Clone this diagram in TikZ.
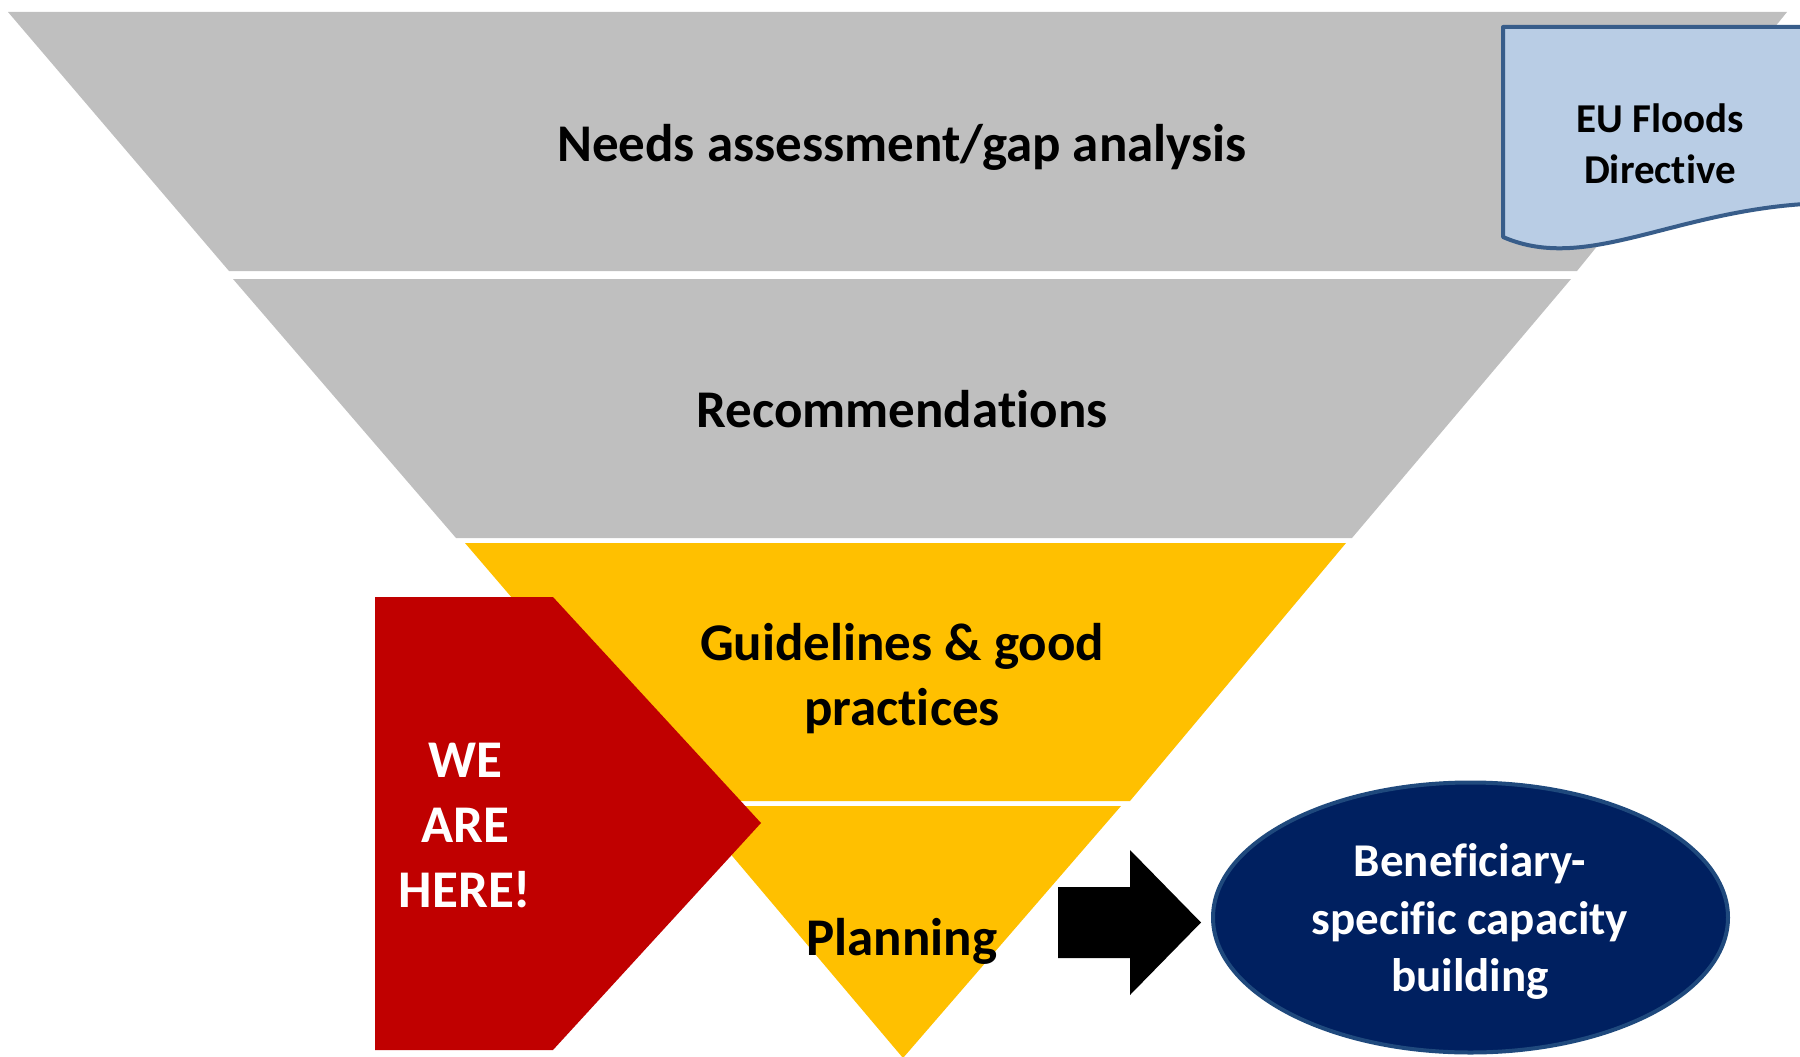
\documentclass[tikz,border=0pt]{standalone}
\usepackage{fontspec}
\setmainfont{Carlito}[Ligatures=NoCommon]
\definecolor{fgray}{HTML}{BFBFBF}
\definecolor{fgold}{HTML}{FFC000}
\definecolor{fred}{HTML}{C00000}
\definecolor{fnavy}{HTML}{002060}
\definecolor{fnavyline}{HTML}{1F497D}
\definecolor{docfill}{HTML}{B9CDE5}
\definecolor{docline}{HTML}{385D8A}
\begin{document}
\begin{tikzpicture}[x=1pt,y=-1pt,
  bigtxt/.style={inner sep=0pt,align=center,font=\fontsize{53}{65}\selectfont\bfseries},
  elltxt/.style={inner sep=0pt,align=center,text=white,font=\fontsize{47}{57.5}\selectfont\bfseries},
  doctxt/.style={inner sep=0pt,align=center,font=\fontsize{41}{51}\selectfont\bfseries}]
\useasboundingbox (0,0) rectangle (1800,1057);
\clip (0,0) rectangle (1800,1057);
% funnel
\fill[fgray] (8,12) -- (1787,12) -- (1577,271) -- (229,271) -- cycle;
\fill[fgray] (233,279) -- (1571,279) -- (1352,538) -- (456,538) -- cycle;
\fill[fgold] (465,543) -- (1346,543) -- (1130,801) -- (686,801) -- cycle;
\fill[fgold] (690,806) -- (1121,806) -- (903,1058) -- cycle;
% EU Floods Directive document shape
\draw[docline,fill=docfill,line width=4pt,line join=round]
  (1503,237) -- (1503,27) -- (1830,27) -- (1830,203)
  .. controls (1680,205) and (1590,275) .. (1503,237) -- cycle;
% red pentagon
\fill[fred] (375,597) -- (553,597) -- (761,823) -- (553,1050) -- (375,1050) -- cycle;
% black block arrow
\fill[black] (1058,887) -- (1130,887) -- (1130,850) -- (1201,922.5) -- (1130,995) -- (1130,958) -- (1058,958) -- cycle;
% ellipse
\draw[fnavyline,fill=fnavy,line width=4pt] (1470.5,917.5) ellipse [x radius=257.5,y radius=135];
% texts
\node[bigtxt] (needs) at (902,147) {Needs assessment/gap analysis};
\node[bigtxt] (rec) at (902,409) {Recommendations};
\node[bigtxt] (guide) at (902,678.5) {Guidelines \& good\\practices};
\node[bigtxt] (plan) at (902,941) {Planning};
\node[bigtxt,text=white] (here) at (465,825.5) {WE\\ARE\\HERE!};
\node[elltxt] (benef) at (1470,921.5) {Beneficiary-\\specific capacity\\building};
\node[doctxt] (eu) at (1660,143.5) {EU Floods\\Directive};
\end{tikzpicture}
\end{document}
